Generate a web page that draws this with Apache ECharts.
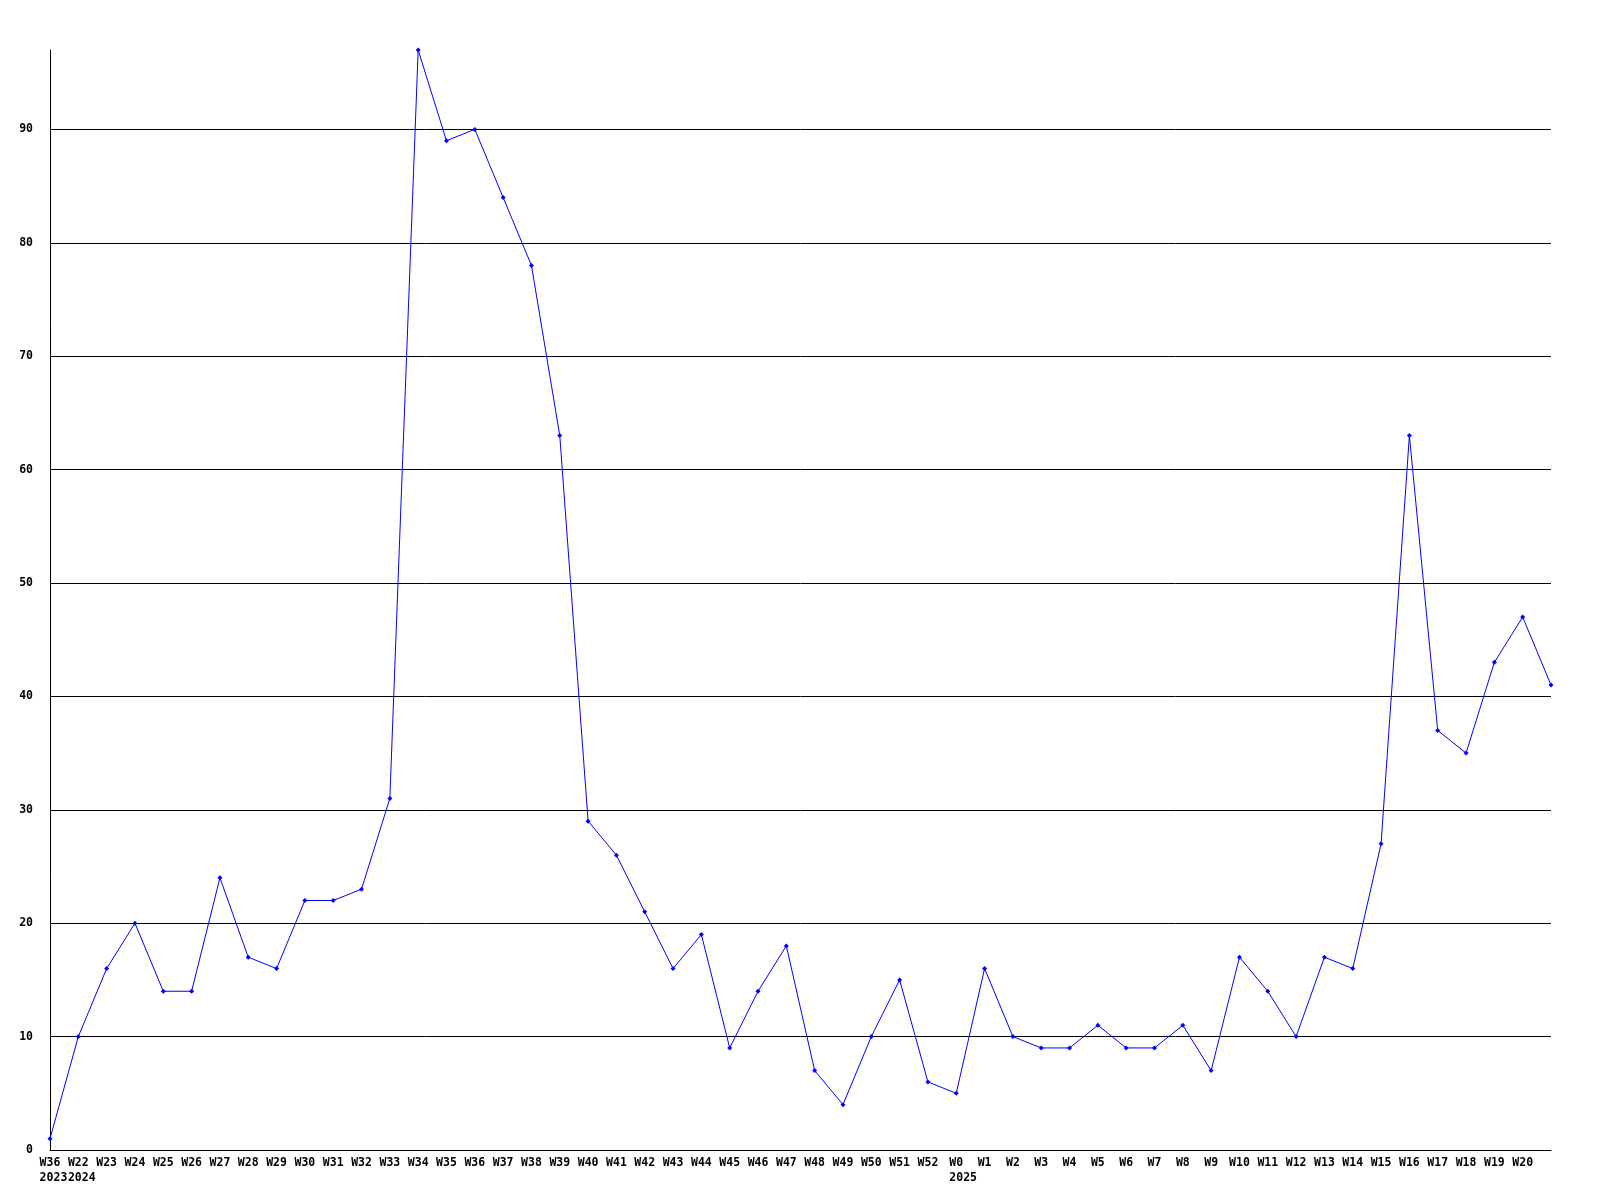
<!DOCTYPE html>
<html>
<head>
<meta charset="utf-8">
<script src="https://cdn.jsdelivr.net/npm/echarts@6/dist/echarts.min.js"></script>
<style>
html,body{margin:0;padding:0;background:#fff;}
#c{width:1600px;height:1200px;}
</style>
</head>
<body>
<div id="c"></div>
<script>
const weeks = ["W36","W22","W23","W24","W25","W26","W27","W28","W29","W30","W31","W32","W33","W34","W35","W36","W37","W38","W39","W40","W41","W42","W43","W44","W45","W46","W47","W48","W49","W50","W51","W52","W0","W1","W2","W3","W4","W5","W6","W7","W8","W9","W10","W11","W12","W13","W14","W15","W16","W17","W18","W19","W20","W21"];
const years = {0:"2023", 1:"2024", 32:"2025"};
const values = [1,10,16,20,14,14,24,17,16,22,22,23,31,97,89,90,84,78,63,29,26,21,16,19,9,14,18,7,4,10,15,6,5,16,10,9,9,11,9,9,11,7,17,14,10,17,16,27,63,37,35,43,47,41];
const yTickInterval = 10;

const FS = 11.5;
const CW = FS * 0.602;
const chart = echarts.init(document.getElementById('c'));
const font = {fontFamily:'DejaVu Sans Mono', fontWeight:'bold', fontSize:FS, color:'#000'};
chart.setOption({
  animation:false,
  backgroundColor:'#fff',
  grid:{left:50,right:49,top:50,bottom:50,containLabel:false},
  xAxis:{
    type:'category',
    data:weeks,
    boundaryGap:false,
    axisLine:{lineStyle:{color:'#000',width:1}},
    axisTick:{show:false},
    axisLabel:Object.assign({}, font, {
      interval:0, margin:6, lineHeight:15,
      formatter:function(v, i){
        if (i === weeks.length-1) return '';
        return years[i] ? '{w|' + v + '}\n{y' + v.length + '|' + years[i] + '}' : v;
      },
      rich:{
        w:Object.assign({}, font, {lineHeight:15}),
        y2:Object.assign({}, font, {lineHeight:15, width:2*CW, align:'left'}),
        y3:Object.assign({}, font, {lineHeight:15, width:3*CW, align:'left'})
      }
    }),
    splitLine:{show:false}
  },
  yAxis:{
    type:'value',
    min:0, max:Math.max(...values), interval:yTickInterval,
    axisLine:{show:true,lineStyle:{color:'#000',width:1}},
    axisTick:{show:false},
    axisLabel:Object.assign({}, font, {margin:17, showMaxLabel:false}),
    splitLine:{show:true,lineStyle:{color:['#000','#000','#000','#000','#000','#000','#000','#000','#000','#000','rgba(0,0,0,0)'],width:1}}
  },
  series:[{
    type:'line',
    data:values,
    symbol:'diamond',
    symbolSize:5,
    showAllSymbol:true,
    lineStyle:{color:'#0000ff',width:1},
    itemStyle:{color:'#0000ff'},
    clip:true
  }]
});
</script>
</body>
</html>
